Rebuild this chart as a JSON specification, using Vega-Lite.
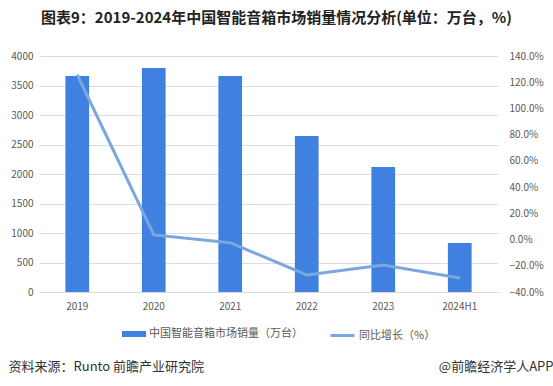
{
  "$schema": "https://vega.github.io/schema/vega-lite/v6.json",
  "width": 459,
  "height": 236,
  "autosize": {"type": "none"},
  "padding": {"left": 39, "top": 56, "right": 55, "bottom": 94},
  "background": "white",
  "title": {
    "text": "图表9：2019-2024年中国智能音箱市场销量情况分析(单位：万台，%)",
    "font": "Noto Sans CJK SC",
    "fontSize": 15,
    "fontWeight": "bold",
    "color": "#222222",
    "anchor": "middle",
    "dx": 8,
    "offset": 25
  },
  "config": {
    "view": {"stroke": null},
    "font": "Noto Sans CJK SC",
    "axis": {
      "labelFont": "Noto Sans CJK SC",
      "labelFontSize": 10,
      "labelColor": "#595959",
      "ticks": false,
      "domain": false
    },
    "legend": {
      "labelFont": "Noto Sans CJK SC",
      "labelFontSize": 11,
      "labelColor": "#595959"
    }
  },
  "data": {
    "values": [
      {"year": "2019", "sales": 3660, "growth": 1.257},
      {"year": "2020", "sales": 3797, "growth": 0.035},
      {"year": "2021", "sales": 3660, "growth": -0.024},
      {"year": "2022", "sales": 2644, "growth": -0.27},
      {"year": "2023", "sales": 2119, "growth": -0.194},
      {"year": "2024H1", "sales": 830, "growth": -0.293}
    ]
  },
  "encoding": {
    "x": {
      "field": "year",
      "type": "nominal",
      "sort": null,
      "scale": {"paddingInner": 0.69, "paddingOuter": 0.345},
      "axis": {
        "title": null,
        "labelAngle": 0,
        "labelPadding": 9,
        "domain": true,
        "domainColor": "#d9d9d9",
        "grid": false
      }
    }
  },
  "layer": [
    {
      "mark": {"type": "bar"},
      "encoding": {
        "y": {
          "field": "sales",
          "type": "quantitative",
          "scale": {"domain": [0, 4000], "nice": false},
          "axis": {
            "values": [0, 500, 1000, 1500, 2000, 2500, 3000, 3500, 4000],
            "format": "d",
            "labelPadding": 6,
            "grid": true,
            "gridColor": "#dedede",
            "title": "资料来源：Runto 前瞻产业研究院",
            "titleAngle": 0,
            "titleAlign": "left",
            "titleBaseline": "middle",
            "titleX": -31,
            "titleY": 310,
            "titleFont": "Noto Sans CJK SC",
            "titleFontSize": 13,
            "titleFontWeight": "normal",
            "titleColor": "#333333"
          }
        },
        "color": {
          "datum": "中国智能音箱市场销量（万台）",
          "scale": {"range": ["#3F80E0"]},
          "legend": {
            "title": null,
            "orient": "none",
            "legendX": 83,
            "legendY": 266,
            "symbolType": "M-1,-0.25H1V0.25H-1Z",
            "symbolSize": 576,
            "symbolStrokeWidth": 0,
            "labelOffset": 3
          }
        }
      }
    },
    {
      "mark": {"type": "line", "strokeWidth": 3},
      "encoding": {
        "y": {
          "field": "growth",
          "type": "quantitative",
          "scale": {"domain": [-0.4, 1.4], "nice": false},
          "axis": {
            "orient": "right",
            "values": [-0.4, -0.2, 0, 0.2, 0.4, 0.6, 0.8, 1.0, 1.2, 1.4],
            "format": ".1%",
            "labelPadding": 11,
            "grid": false,
            "title": "@前瞻经济学人APP",
            "titleAngle": 0,
            "titleAlign": "right",
            "titleBaseline": "middle",
            "titleX": 55,
            "titleY": 310,
            "titleFont": "Noto Sans CJK SC",
            "titleFontSize": 13,
            "titleFontWeight": "normal",
            "titleColor": "#333333"
          }
        },
        "stroke": {
          "datum": "同比增长（%）",
          "scale": {"range": ["#7BA7E1"]},
          "legend": {
            "title": null,
            "orient": "none",
            "legendX": 290,
            "legendY": 266,
            "symbolType": "stroke",
            "symbolSize": 576,
            "symbolStrokeWidth": 3,
            "labelOffset": 3
          }
        }
      }
    }
  ],
  "resolve": {"scale": {"y": "independent"}}
}
